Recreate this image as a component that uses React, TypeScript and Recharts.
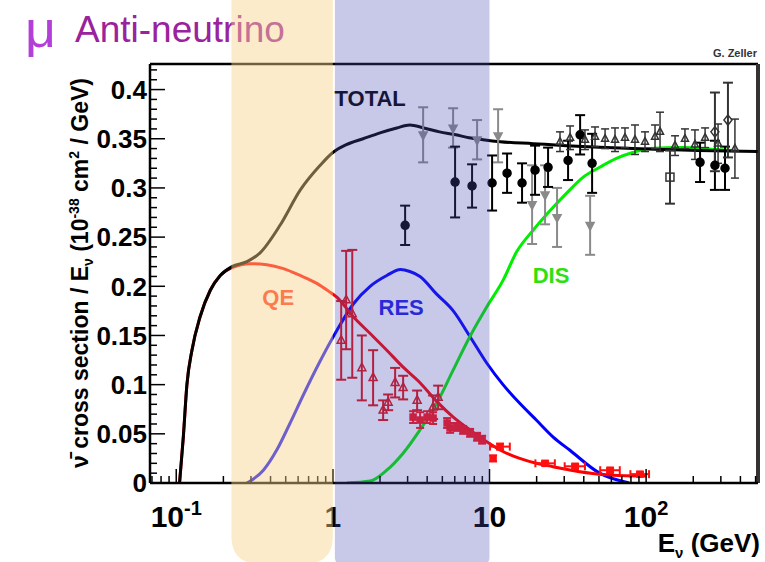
import React from "react";
import {
  ComposedChart,
  Line,
  Scatter,
  XAxis,
  YAxis,
  ErrorBar,
  ReferenceArea,
  ReferenceLine,
  ReferenceDot,
  Label,
} from "recharts";

const W = 765;
const H = 562;
const X_DOMAIN: [number, number] = [0.068, 518];
const Y_DOMAIN: [number, number] = [0, 0.426];
const MARGIN = { top: 64, right: 7, bottom: 0, left: 80 };
const FONT = "'Liberation Sans', Arial, sans-serif";

// theory curves, [E (GeV), sigma/E]
const TOTAL_CURVE: [number, number][] = [
  [0.105, 0], [0.111, 0.047], [0.117, 0.1], [0.126, 0.135], [0.142, 0.169],
  [0.165, 0.196], [0.191, 0.211], [0.227, 0.22], [0.283, 0.225], [0.343, 0.234],
  [0.46, 0.262], [0.62, 0.298], [0.83, 0.323], [1.0, 0.336], [1.22, 0.344],
  [1.56, 0.35], [2.0, 0.356], [2.56, 0.361], [3.1, 0.364], [3.8, 0.361],
  [4.8, 0.357], [6.1, 0.354], [7.4, 0.351], [9.1, 0.349], [11.7, 0.347],
  [19, 0.345], [31, 0.343], [83, 0.34], [134, 0.339], [216, 0.338], [515, 0.337],
];
const QE_CURVE: [number, number][] = [
  [0.105, 0], [0.111, 0.047], [0.117, 0.1], [0.126, 0.135], [0.142, 0.169],
  [0.165, 0.196], [0.191, 0.211], [0.227, 0.219], [0.297, 0.223], [0.379, 0.222],
  [0.484, 0.218], [0.618, 0.211], [0.79, 0.203], [0.96, 0.194], [1.06, 0.189],
  [1.35, 0.169], [1.73, 0.152], [2.21, 0.135], [2.8, 0.118], [3.6, 0.102],
  [4.6, 0.083], [5.87, 0.067], [7.5, 0.054], [9.6, 0.042], [12.2, 0.032],
  [15.6, 0.025], [19.9, 0.02], [25.4, 0.0166], [32.5, 0.0132], [50, 0.009], [100, 0.007],
];
const RES_CURVE: [number, number][] = [
  [0.283, 0], [0.36, 0.013], [0.44, 0.034], [0.53, 0.06], [0.65, 0.09],
  [0.83, 0.124], [1.06, 0.155], [1.35, 0.182], [1.73, 0.2], [2.21, 0.211],
  [2.7, 0.217], [3.1, 0.215], [3.6, 0.21], [4.6, 0.192], [5.87, 0.175],
  [7.5, 0.149], [9.6, 0.122], [12.2, 0.1], [15.6, 0.081], [19.9, 0.064],
  [25.4, 0.047], [32.5, 0.0335], [50.5, 0.01], [78, 0],
];
const DIS_CURVE: [number, number][] = [
  [1.23, 0], [1.73, 0.002], [2.21, 0.013], [2.8, 0.03], [3.6, 0.054],
  [4.6, 0.081], [5.87, 0.115], [7.5, 0.149], [9.6, 0.179], [12.2, 0.206],
  [14.9, 0.235], [19, 0.257], [24.4, 0.277], [31.2, 0.295], [39.7, 0.311],
  [50.5, 0.321], [64.6, 0.33], [82, 0.336], [105, 0.34], [170, 0.341],
  [280, 0.339], [357, 0.338],
];

// measurements, [E, value, error]
const RED_OPEN: [number, number, number][] = [
  [1.216, 0.186, 0.05], [1.13, 0.145, 0.04], [1.33, 0.172, 0.065], [1.531, 0.117, 0.033],
  [1.807, 0.107, 0.028], [2.094, 0.074, 0.01], [2.254, 0.082, 0.008], [2.498, 0.102, 0.015],
  [2.81, 0.097, 0.012], [3.451, 0.084, 0.01], [4.365, 0.077, 0.012], [4.7, 0.087, 0.012],
];
const RED_SQUARE: [number, number, number][] = [
  [3.253, 0.067, 0.006], [3.606, 0.064, 0.008], [3.998, 0.067, 0.006], [4.365, 0.066, 0.006],
  [5.363, 0.061, 0.005], [5.605, 0.056, 0.005], [6.21, 0.057, 0.004], [6.786, 0.054, 0.004],
  [7.52, 0.051, 0.004], [8.335, 0.047, 0.004], [8.97, 0.044, 0.004], [10.54, 0.025, 0.003],
];
// high-energy QE points with energy bins: [E, value, error, E low err, E high err]
const RED_BINNED: [number, number, number, number, number][] = [
  [11.68, 0.037, 0.003, 1.6, 1.8], [22.64, 0.02, 0.002, 3, 3.5], [35.2, 0.017, 0.002, 5, 5.5],
  [58.9, 0.013, 0.002, 8, 9], [91.4, 0.009, 0.002, 12, 13],
];
const BLACK_FILLED: [number, number, number][] = [
  [2.893, 0.262, 0.02], [6.03, 0.306, 0.036], [7.74, 0.302, 0.022], [10.39, 0.305, 0.028],
  [12.95, 0.315, 0.02], [16.14, 0.305, 0.02], [19.54, 0.318, 0.025], [23.66, 0.321, 0.02],
  [31.75, 0.328, 0.02], [37.9, 0.354, 0.02], [45.2, 0.325, 0.03], [221, 0.326, 0.02],
  [275, 0.323, 0.025], [319, 0.32, 0.022],
];
const GRAY_FILLED: [number, number, number][] = [
  [3.77, 0.354, 0.028], [5.857, 0.361, 0.02], [8.335, 0.349, 0.02], [11.35, 0.353, 0.027],
  [18.71, 0.283, 0.04], [22.64, 0.293, 0.03], [27.0, 0.27, 0.03], [43.9, 0.262, 0.03],
];
const BLACK_OPEN: [number, number, number][] = [
  [28.2, 0.347, 0.01], [32.7, 0.351, 0.012], [40.7, 0.349, 0.01], [47.2, 0.352, 0.01],
  [54.7, 0.35, 0.01], [63.3, 0.349, 0.012], [73.3, 0.351, 0.01], [84.9, 0.349, 0.015],
  [98.4, 0.347, 0.01], [114, 0.352, 0.012], [122.7, 0.357, 0.02], [153, 0.343, 0.01],
  [177, 0.35, 0.01], [205, 0.344, 0.015], [238, 0.351, 0.01], [288, 0.345, 0.02],
  [369, 0.34, 0.03],
];
const OPEN_SQUARE: [number, number, number][] = [[142, 0.311, 0.027]];
const OPEN_DIAMOND: [number, number, number][] = [[275, 0.357, 0.04], [333, 0.369, 0.038]];

// shaded energy regions [E1, E2]
const BANDS = [
  { x1: 0.225, x2: 1.0, fill: "rgba(247,210,140,0.45)", radius: 28 },
  { x1: 1.03, x2: 10, fill: "rgba(72,72,178,0.3)", radius: 6 },
];

const CURVE_LABELS = [
  { text: "TOTAL", e: 1.73, v: 0.391, color: "#000" },
  { text: "QE", e: 0.448, v: 0.189, color: "#ff3418" },
  { text: "RES", e: 2.73, v: 0.179, color: "#1c1ce8" },
  { text: "DIS", e: 24.7, v: 0.211, color: "#2ee010" },
];

const X_MAJOR = [0.1, 1, 10, 100];
const X_MAJOR_LABELS = [
  { base: "10", sup: "-1" },
  { base: "1", sup: "" },
  { base: "10", sup: "" },
  { base: "10", sup: "2" },
];
const X_TICKS = [
  0.07, 0.08, 0.09, 0.1, 0.2, 0.3, 0.4, 0.5, 0.6, 0.7, 0.8, 0.9,
  1, 2, 3, 4, 5, 6, 7, 8, 9, 10, 20, 30, 40, 50, 60, 70, 80, 90,
  100, 200, 300, 400, 500,
];
const Y_TICKS = Array.from({ length: 43 }, (_, i) => +(i * 0.01).toFixed(2));
const Y_LABELS = ["0", "0.05", "0.1", "0.15", "0.2", "0.25", "0.3", "0.35", "0.4"];

const curve = (arr: [number, number][]) => arr.map(([e, v]) => ({ e, v }));
const points = (arr: [number, number, number][]) => arr.map(([e, v, err]) => ({ e, v, err }));
const binned = (arr: [number, number, number, number, number][]) =>
  arr.map(([e, v, err, lo, hi]) => ({ e, v, err, xerr: [lo, hi] }));

type Kind = "circle" | "square" | "triangle" | "triangleDown" | "diamond";

function marker(kind: Kind, color: string, filled: boolean, s = 4) {
  return (p: any) => {
    const { cx, cy } = p;
    if (cx == null || cy == null) return <g />;
    const st = { fill: filled ? color : "none", stroke: color, strokeWidth: 1.5 };
    if (kind === "square") return <rect x={cx - s} y={cy - s} width={2 * s} height={2 * s} {...st} />;
    if (kind === "triangle")
      return <path d={`M${cx},${cy - s * 1.2}L${cx + s},${cy + s * 0.7}L${cx - s},${cy + s * 0.7}Z`} {...st} />;
    if (kind === "triangleDown")
      return <path d={`M${cx},${cy + s * 1.2}L${cx + s},${cy - s * 0.7}L${cx - s},${cy - s * 0.7}Z`} {...st} />;
    if (kind === "diamond")
      return <path d={`M${cx},${cy - s * 1.3}L${cx + s},${cy}L${cx},${cy + s * 1.3}L${cx - s},${cy}Z`} {...st} />;
    return <circle cx={cx} cy={cy} r={s} {...st} />;
  };
}

function XTick(props: any) {
  const { x, y, payload } = props;
  const idx = X_MAJOR.indexOf(payload.value);
  if (idx < 0) return <line x1={x} x2={x} y1={y} y2={y - 7} stroke="#000" strokeWidth={1.5} />;
  const lab = X_MAJOR_LABELS[idx];
  return (
    <g>
      <line x1={x} x2={x} y1={y} y2={y - 14} stroke="#000" strokeWidth={1.5} />
      <text x={x} y={y + 44} textAnchor="middle" fontFamily={FONT} fontWeight="bold" fontSize={30} fill="#000">
        {lab.base}
        {lab.sup && (
          <tspan dy={-12} fontSize={20}>
            {lab.sup}
          </tspan>
        )}
      </text>
    </g>
  );
}

function YTick(props: any) {
  const { x, y, payload } = props;
  const hundredths = Math.round(payload.value * 100);
  const major = hundredths % 5 === 0;
  return (
    <g>
      <line x1={x} x2={x + (major ? 15 : 7)} y1={y} y2={y} stroke="#000" strokeWidth={1.5} />
      {major && (
        <text x={x - 3} y={y} dy="0.36em" textAnchor="end" fontFamily={FONT} fontWeight="bold" fontSize={26} fill="#000">
          {Y_LABELS[hundredths / 5]}
        </text>
      )}
    </g>
  );
}

function bandShape(radius: number, fill: string) {
  return (p: any) => {
    const { x, y, width, height } = p;
    const r = Math.min(radius, width / 2);
    const b = y + height;
    const d = `M${x},${y}H${x + width}V${b - r}Q${x + width},${b} ${x + width - r},${b}H${x + r}Q${x},${b} ${x},${b - r}Z`;
    return <path d={d} fill={fill} stroke="none" />;
  };
}

export default function App() {
  const axisLine = { stroke: "#000", strokeWidth: 2.5 };
  return (
    <div style={{ position: "absolute", left: 0, top: 0, width: W, height: H, background: "#fff" }}>
      <div style={{ position: "absolute", left: 0, top: 0 }}>
        <ComposedChart width={W} height={H} margin={MARGIN}>
          <XAxis
            dataKey="e"
            type="number"
            scale="log"
            domain={X_DOMAIN}
            allowDataOverflow
            ticks={X_TICKS}
            interval={0}
            tickLine={false}
            tickSize={0}
            tickMargin={0}
            axisLine={axisLine}
            tick={<XTick />}
            height={79}
          />
          <YAxis
            dataKey="v"
            type="number"
            domain={Y_DOMAIN}
            allowDataOverflow
            ticks={Y_TICKS}
            interval={0}
            tickLine={false}
            tickSize={0}
            tickMargin={0}
            axisLine={axisLine}
            tick={<YTick />}
            width={70}
          />
          <ReferenceLine y={Y_DOMAIN[1]} stroke="#000" strokeWidth={2.5} ifOverflow="visible" />
          <ReferenceLine x={X_DOMAIN[1]} stroke="#333" strokeWidth={4} ifOverflow="visible" />

          <Line data={curve(RES_CURVE)} dataKey="v" type="monotone" stroke="#0000ff" strokeWidth={3} dot={false} isAnimationActive={false} />
          <Line data={curve(DIS_CURVE)} dataKey="v" type="monotone" stroke="#00ee00" strokeWidth={3} dot={false} isAnimationActive={false} />
          <Line data={curve(QE_CURVE)} dataKey="v" type="monotone" stroke="#ff0000" strokeWidth={3} dot={false} isAnimationActive={false} />
          <Line data={curve(TOTAL_CURVE)} dataKey="v" type="monotone" stroke="#000" strokeWidth={3} dot={false} isAnimationActive={false} />

          <Scatter data={points(RED_OPEN)} dataKey="v" shape={marker("triangle", "#e01010", false, 4)} isAnimationActive={false}>
            <ErrorBar dataKey="err" direction="y" stroke="#e01010" strokeWidth={2} width={5} />
          </Scatter>
          <Scatter data={points(RED_SQUARE)} dataKey="v" shape={marker("square", "#ff1010", true, 3)} isAnimationActive={false}>
            <ErrorBar dataKey="err" direction="y" stroke="#ff1010" strokeWidth={2} width={4} />
          </Scatter>
          <Scatter data={binned(RED_BINNED)} dataKey="v" shape={marker("square", "#ff1010", true, 3)} isAnimationActive={false}>
            <ErrorBar dataKey="err" direction="y" stroke="#ff1010" strokeWidth={2} width={4} />
            <ErrorBar dataKey="xerr" direction="x" stroke="#ff1010" strokeWidth={2} width={4} />
          </Scatter>
          <Scatter data={points(GRAY_FILLED)} dataKey="v" shape={marker("triangleDown", "#8a8a8a", true, 4)} isAnimationActive={false}>
            <ErrorBar dataKey="err" direction="y" stroke="#8a8a8a" strokeWidth={2} width={5} />
          </Scatter>
          <Scatter data={points(BLACK_FILLED)} dataKey="v" shape={marker("circle", "#000", true, 4)} isAnimationActive={false}>
            <ErrorBar dataKey="err" direction="y" stroke="#000" strokeWidth={2} width={5} />
          </Scatter>
          <Scatter data={points(BLACK_OPEN)} dataKey="v" shape={marker("triangle", "#333", false, 3.5)} isAnimationActive={false}>
            <ErrorBar dataKey="err" direction="y" stroke="#333" strokeWidth={1.5} width={4} />
          </Scatter>
          <Scatter data={points(OPEN_SQUARE)} dataKey="v" shape={marker("square", "#333", false, 4)} isAnimationActive={false}>
            <ErrorBar dataKey="err" direction="y" stroke="#333" strokeWidth={2} width={5} />
          </Scatter>
          <Scatter data={points(OPEN_DIAMOND)} dataKey="v" shape={marker("diamond", "#333", false, 4)} isAnimationActive={false}>
            <ErrorBar dataKey="err" direction="y" stroke="#333" strokeWidth={2} width={5} />
          </Scatter>

          {CURVE_LABELS.map((l) => (
            <ReferenceDot key={l.text} x={l.e} y={l.v} r={0} fill="none" stroke="none" ifOverflow="visible">
              <Label value={l.text} position="center" fill={l.color} fontSize={22} fontWeight="bold" fontFamily={FONT} />
            </ReferenceDot>
          ))}
        </ComposedChart>
      </div>

      <svg width={W} height={H} style={{ position: "absolute", left: 0, top: 0 }}>
        <text x={25} y={47} fontFamily={FONT} fontSize={52} fill="#b23fd8" textLength={31} lengthAdjust="spacingAndGlyphs">
          μ
        </text>
        <text x={75} y={42} fontFamily={FONT} fontSize={37} fill="#9a229c">
          Anti-neutrino
        </text>
        <text x={757} y={57} textAnchor="end" fontFamily={FONT} fontSize={11} fontWeight="bold" fill="#333">
          G. Zeller
        </text>
        <text x={760} y={552} textAnchor="end" fontFamily={FONT} fontSize={26} fontWeight="bold" fill="#000">
          E<tspan dy={6} fontSize={15}>ν</tspan>
          <tspan dy={-6}> (GeV)</tspan>
        </text>
        <text
          transform="translate(88,273) rotate(-90)"
          textAnchor="middle"
          fontFamily={FONT}
          fontSize={23}
          fontWeight="bold"
          fill="#000"
        >
          ν̄ cross section / E<tspan dy={5} fontSize={14}>ν</tspan>
          <tspan dy={-5}> (10</tspan>
          <tspan dy={-9} fontSize={14}>-38</tspan>
          <tspan dy={9}> cm</tspan>
          <tspan dy={-9} fontSize={14}>2</tspan>
          <tspan dy={9}> / GeV)</tspan>
        </text>
      </svg>

      <div style={{ position: "absolute", left: 0, top: 0, pointerEvents: "none" }}>
        <ComposedChart width={W} height={H} margin={{ top: 64, right: 7, bottom: 79, left: 150 }}>
          <XAxis dataKey="e" type="number" scale="log" domain={X_DOMAIN} allowDataOverflow hide />
          <YAxis dataKey="v" type="number" domain={Y_DOMAIN} allowDataOverflow hide />
          {BANDS.map((b) => (
            <ReferenceArea
              key={b.x1}
              x1={b.x1}
              x2={b.x2}
              y1={-0.082}
              y2={0.5}
              ifOverflow="visible"
              shape={bandShape(b.radius, b.fill)}
            />
          ))}
        </ComposedChart>
      </div>
    </div>
  );
}
